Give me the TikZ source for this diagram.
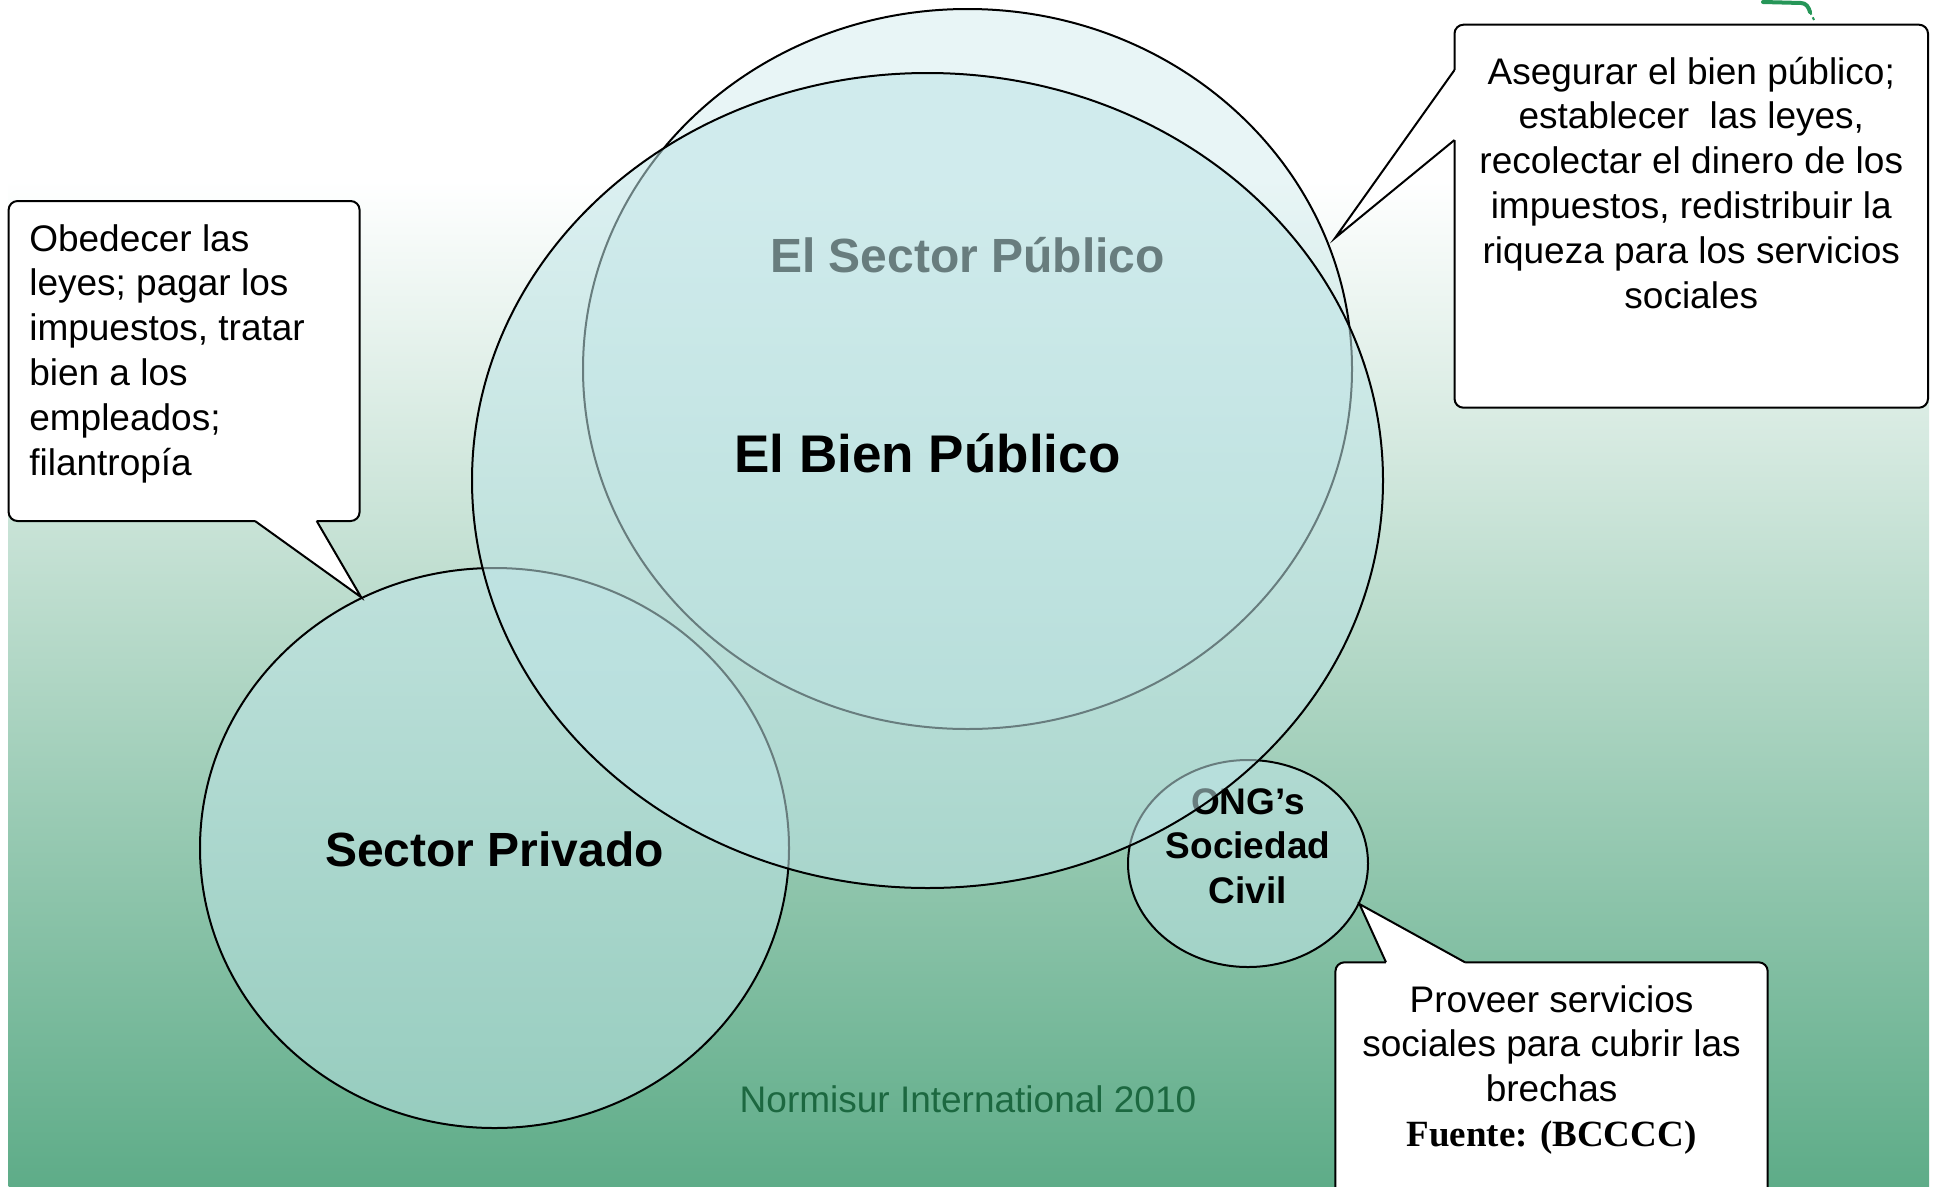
\documentclass[tikz,border=0pt]{standalone}
\usepackage{fontspec}
\setmainfont{Liberation Sans}
\newfontfamily\timesfont{Liberation Serif}
\usepackage{tikz}
\usetikzlibrary{shapes}
\usetikzlibrary{positioning}
\usetikzlibrary{calc}
\definecolor{fondo}{RGB}{94,172,136}
\definecolor{relleno}{RGB}{190,228,230}
\definecolor{firma}{RGB}{28,104,64}
\definecolor{marca}{RGB}{38,150,88}
\tikzstyle{conjunto}=[ellipse,draw=black,line width=2pt,fill=relleno,inner sep=0pt]
\tikzstyle{globo}=[rectangle,draw=black,line width=2pt,fill=white,rounded corners=9pt,inner sep=0pt,outer sep=0pt,anchor=north west]
\tikzstyle{pico}=[draw=black,line width=2pt,line join=miter]
\tikzstyle{texto}=[font=\fontsize{37}{44.8}\selectfont,inner sep=0pt]
\tikzstyle{titulo}=[font=\bfseries\fontsize{48}{57.6}\selectfont,inner sep=0pt,anchor=base]

\begin{document}
\begin{tikzpicture}[x=1pt,y=-1pt]
  \useasboundingbox (0,0) rectangle (1937,1186);
  \clip (0,0) rectangle (1937,1186);

  % fondo
  \fill[white] (0,0) rectangle (1937,1186);
  \shade[top color=white,bottom color=fondo] (8.6,180) rectangle (1929,1186);
  \draw[marca,line width=4pt,line cap=round] (1763,2) -- (1801,3) to[out=0,in=105] (1810,12);
  \draw[marca,line width=2pt,dashed] (1810,12) -- (1815,22);

  \foreach \pos/\name/\ancho/\alto/\op in {{(967.5,369)/sp/769/720/0.35}, {(494.5,848)/priv/589/560/0.55}, {(1248,863.5)/ong/240/207/0.55}}
      \node[conjunto,fill opacity=\op,minimum width=\ancho pt,minimum height=\alto pt] (\name) at \pos {};

  \node[titulo] (sp-texto) at ([yshift=97pt]sp.center) {El Sector Público};
  \node[titulo] (priv-texto) at ([yshift=-18pt]priv.center) {Sector Privado};
  \node[texto,font=\bfseries\fontsize{37}{44.5}\selectfont,align=center,anchor=north] (ong-texto) at ([yshift=80.6pt]ong.center) {\strut ONG’s\\Sociedad\\Civil};

  % el bien publico encima
  \node[conjunto,fill opacity=0.55,minimum width=911pt,minimum height=815pt] (bien) at (927.5,480.5) {};
  \node[titulo,font=\bfseries\fontsize{53}{63.6}\selectfont] (bien-texto) at ([yshift=8.5pt]bien.center) {El Bien Público};

  \node[texto,text=firma,anchor=base] (firma) at (968,1112) {Normisur International 2010};

  % globos
  \node[globo,minimum width=351pt,minimum height=320pt] (leyes) at (8.6,201) {};
  \node[globo,minimum width=473.5pt,minimum height=383pt] (estado) at (1454.5,24.7) {};
  \node[globo,minimum width=432.3pt,minimum height=260pt] (ong-globo) at (1335.4,962.3) {};

  \coordinate (leyes-a) at ($(leyes.south west)+(246.4,0)$);
  \coordinate (leyes-b) at ($(leyes.south west)+(308.1,0)$);
  \coordinate (estado-a) at ($(estado.north west)+(0,45.3)$);
  \coordinate (estado-b) at ($(estado.north west)+(0,115.3)$);
  \coordinate (estado-punta) at (1335,238);
  \coordinate (ong-a) at ($(ong-globo.north west)+(50.6,0)$);
  \coordinate (ong-b) at ($(ong-globo.north west)+(129.6,0)$);

  \fill[white] ($(leyes-a)+(0,-3)$) -- (leyes-a) -- (priv.118.6) -- (leyes-b) -- ($(leyes-b)+(0,-3)$) -- cycle;
  \draw[pico] (leyes-a) -- (priv.118.6) -- (leyes-b);
  \fill[white] ($(estado-a)+(3,0)$) -- (estado-a) -- (estado-punta) -- (estado-b) -- ($(estado-b)+(3,0)$) -- cycle;
  \draw[pico] (estado-a) -- (estado-punta) -- (estado-b);
  \fill[white] ($(ong-a)+(0,3)$) -- (ong-a) -- (ong.-20.2) -- (ong-b) -- ($(ong-b)+(0,3)$) -- cycle;
  \draw[pico] (ong-a) -- (ong.-20.2) -- (ong-b);

  \node[texto,anchor=north west,align=left] (leyes-texto) at ($(leyes.north west)+(20.5,18.6)$) {\strut Obedecer las\\leyes; pagar los\\impuestos, tratar\\bien a los\\empleados;\\filantropía};
  \node[texto,anchor=north,align=center] (estado-texto) at ($(estado.north)+(0,27.9)$) {\strut Asegurar el bien público;\\establecer\ \ las leyes,\\recolectar el dinero de los\\impuestos, redistribuir la\\riqueza para los servicios\\sociales};
  \node[texto,anchor=north,align=center] (ong-globo-texto) at ($(ong-globo.north)+(0,18.3)$) {\strut Proveer servicios\\sociales para cubrir las\\brechas\\{\timesfont\bfseries Fuente: (BCCCC)}};
\end{tikzpicture}
\end{document}
